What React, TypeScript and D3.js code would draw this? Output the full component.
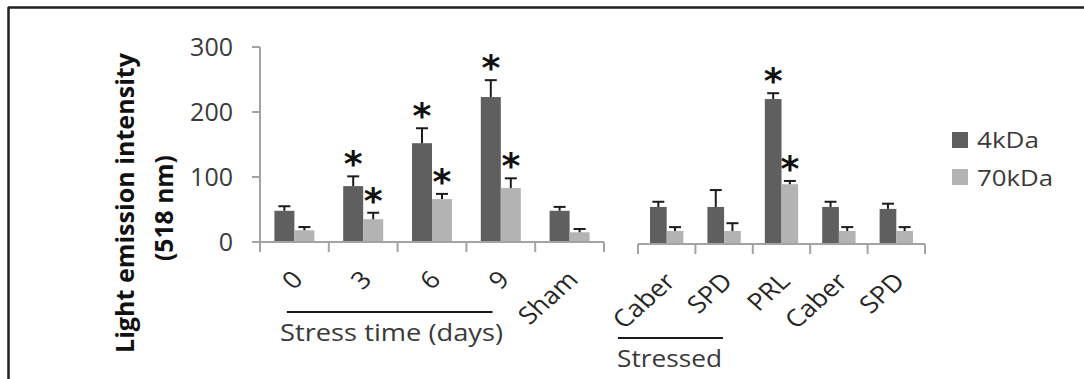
import React from "react";
import * as d3 from "d3";

const W = 1084;
const H = 379;

// ---- data ----
const groups1 = ["0", "3", "6", "9", "Sham"];
const groups2 = ["Caber", "SPD", "PRL", "Caber", "SPD"];
const seriesNames = ["4kDa", "70kDa"];
const seriesColors = ["#5f5f5f", "#b3b3b3"];
const yTicks = [0, 100, 200, 300];

const kDa4Panel1 = [48, 86, 152, 223, 48];
const kDa4Panel1Err = [7, 15, 23, 26, 6];
const kDa70Panel1 = [18, 35, 66, 83, 15];
const kDa70Panel1Err = [5, 10, 8, 15, 5];
const sig4Panel1 = [false, true, true, true, false];
const sig70Panel1 = [false, true, true, true, false];

const kDa4Panel2 = [57, 57, 223, 57, 54];
const kDa4Panel2Err = [8, 26, 9, 8, 8];
const kDa70Panel2 = [20, 20, 92, 20, 20];
const kDa70Panel2Err = [6, 12, 5, 6, 6];
const sig4Panel2 = [false, false, true, false, false];
const sig70Panel2 = [false, false, true, false, false];

const FONT = "'Open Sans', 'DejaVu Sans', sans-serif";
const AXIS = "#a3a3a3";
const TXT = "#3a3a3a";

type Panel = {
  labels: string[];
  vals: number[][];
  errs: number[][];
  sig: boolean[][];
  x0: number;
  x1: number;
  y0: number;
  labelY: number;
  yAxis: boolean;
};

const panels: Panel[] = [
  {
    labels: groups1,
    vals: [kDa4Panel1, kDa70Panel1],
    errs: [kDa4Panel1Err, kDa70Panel1Err],
    sig: [sig4Panel1, sig70Panel1],
    x0: 260,
    x1: 604,
    y0: 242,
    labelY: 281,
    yAxis: true,
  },
  {
    labels: groups2,
    vals: [kDa4Panel2, kDa70Panel2],
    errs: [kDa4Panel2Err, kDa70Panel2Err],
    sig: [sig4Panel2, sig70Panel2],
    x0: 638,
    x1: 925,
    y0: 244,
    labelY: 283,
    yAxis: false,
  },
];

function PanelView({ p, idx }: { p: Panel; idx: number }) {
  const y = d3.scaleLinear().domain([0, 300]).range([p.y0, p.y0 - 195]);
  const keys = p.labels.map((_, i) => String(i));
  const x = d3.scaleBand<string>().domain(keys).range([p.x0, p.x1]).paddingInner(0).paddingOuter(0);
  const xs = d3
    .scaleBand<string>()
    .domain(seriesNames)
    .range([0, x.bandwidth()])
    .paddingInner(0)
    .paddingOuter(0.72);
  const bw = xs.bandwidth();
  const boundaries = keys.map((k) => x(k) as number).concat([p.x1]);

  return (
    <g>
      {/* bars */}
      {keys.map((k, gi) =>
        seriesNames.map((s, si) => {
          const v = p.vals[si][gi];
          const bx = (x(k) as number) + (xs(s) as number);
          return (
            <rect
              key={`b${idx}-${gi}-${si}`}
              x={bx}
              y={y(v)}
              width={bw}
              height={y(0) - y(v)}
              fill={seriesColors[si]}
            />
          );
        })
      )}
      {/* error bars */}
      {keys.map((k, gi) =>
        seriesNames.map((s, si) => {
          const v = p.vals[si][gi];
          const e = p.errs[si][gi];
          const cx = (x(k) as number) + (xs(s) as number) + bw / 2;
          return (
            <g key={`e${idx}-${gi}-${si}`} stroke="#1c1c1c" strokeWidth={2}>
              <line x1={cx} x2={cx} y1={y(v)} y2={y(v + e)} />
              <line x1={cx - 6} x2={cx + 6} y1={y(v + e)} y2={y(v + e)} />
            </g>
          );
        })
      )}
      {/* stars */}
      {keys.map((k, gi) =>
        seriesNames.map((s, si) => {
          if (!p.sig[si][gi]) return null;
          const v = p.vals[si][gi];
          const e = p.errs[si][gi];
          const cx = (x(k) as number) + (xs(s) as number) + bw / 2;
          const cy = y(v + e) - 20;
          return (
            <text
              key={`s${idx}-${gi}-${si}`}
              x={cx}
              y={cy + 20}
              textAnchor="middle"
              fontFamily="'DejaVu Sans', sans-serif"
              fontWeight="bold"
              fontSize={36}
              fill="#111"
            >
              *
            </text>
          );
        })
      )}
      {/* x axis */}
      <line x1={p.x0} x2={p.x1} y1={p.y0} y2={p.y0} stroke={AXIS} strokeWidth={2} />
      {boundaries.map((bx, i) => (
        <line key={`t${idx}-${i}`} x1={bx} x2={bx} y1={p.y0} y2={p.y0 + 10} stroke={AXIS} strokeWidth={2} />
      ))}
      {/* y axis */}
      {p.yAxis && (
        <g>
          <line x1={p.x0} x2={p.x0} y1={y(300)} y2={p.y0} stroke={AXIS} strokeWidth={2} />
          {yTicks.map((t) => (
            <g key={`yt${t}`}>
              <line x1={p.x0 - 8} x2={p.x0} y1={y(t)} y2={y(t)} stroke={AXIS} strokeWidth={2} />
              <text
                x={p.x0 - 27}
                y={y(t)}
                dy="0.36em"
                textAnchor="end"
                fontFamily={FONT}
                fontSize={25}
                fill={TXT}
              >
                {t}
              </text>
            </g>
          ))}
        </g>
      )}
      {/* category labels */}
      {keys.map((k, gi) => {
        const cx = (x(k) as number) + x.bandwidth() / 2 + 10;
        return (
          <text
            key={`l${idx}-${gi}`}
            transform={`translate(${cx},${p.labelY}) scale(1.12,1) rotate(-45)`}
            textAnchor="end"
            fontFamily={FONT}
            fontSize={24}
            fill="#262626"
          >
            {p.labels[gi]}
          </text>
        );
      })}
    </g>
  );
}

export default function App() {
  const p1 = panels[0];
  const p2 = panels[1];
  const xa = d3.scaleBand<string>().domain(p1.labels.map((_, i) => String(i))).range([p1.x0, p1.x1]);
  const xb = d3.scaleBand<string>().domain(p2.labels.map((_, i) => String(i))).range([p2.x0, p2.x1]);
  const s1 = (xa("0") as number) + xa.bandwidth() * 0.39;
  const e1 = (xa("3") as number) + xa.bandwidth() * 0.38;
  const s2 = (xb("0") as number) - 20;
  const e2 = (xb("1") as number) + xb.bandwidth() * 0.48;

  return (
    <svg
      width={W}
      height={H}
      viewBox={`0 0 ${W} ${H}`}
      style={{ position: "absolute", left: 0, top: 0, display: "block", background: "#fff" }}
    >
      <rect x={0} y={0} width={W} height={H} fill="#fff" />
      {/* frame */}
      <line x1={8} x2={W} y1={7.5} y2={7.5} stroke="#222" strokeWidth={2.5} />
      <line x1={8.5} x2={8.5} y1={7} y2={H} stroke="#222" strokeWidth={2.5} />

      {/* y title */}
      <text
        transform="translate(134,203) rotate(-90)"
        textAnchor="middle"
        fontFamily={FONT}
        fontWeight="bold"
        fontSize={25}
        fill="#111"
        textLength={300}
        lengthAdjust="spacingAndGlyphs"
      >
        Light emission intensity
      </text>
      <text
        transform="translate(173,208) rotate(-90)"
        textAnchor="middle"
        fontFamily={FONT}
        fontWeight="bold"
        fontSize={25}
        fill="#111"
        textLength={106}
        lengthAdjust="spacingAndGlyphs"
      >
        (518 nm)
      </text>

      {panels.map((p, i) => (
        <PanelView key={i} p={p} idx={i} />
      ))}

      {/* group annotations */}
      <line x1={s1} x2={e1} y1={312} y2={312} stroke="#1a1a1a" strokeWidth={2} />
      <text x={280} y={341} fontFamily={FONT} fontSize={23} fill={TXT} textLength={223} lengthAdjust="spacingAndGlyphs">
        Stress time  (days)
      </text>
      <line x1={s2} x2={e2} y1={338} y2={338} stroke="#1a1a1a" strokeWidth={2} />
      <text x={617} y={367} fontFamily={FONT} fontSize={23} fill={TXT} textLength={105} lengthAdjust="spacingAndGlyphs">
        Stressed
      </text>

      {/* legend */}
      {seriesNames.map((s, i) => (
        <g key={`lg${i}`}>
          <rect x={952} y={132 + i * 37} width={16} height={16} fill={seriesColors[i]} />
          <text
            x={977}
            y={148 + i * 38}
            fontFamily={FONT}
            fontSize={22}
            fill={TXT}
            textLength={i === 0 ? 62 : 76}
            lengthAdjust="spacingAndGlyphs"
          >
            {s}
          </text>
        </g>
      ))}
    </svg>
  );
}
